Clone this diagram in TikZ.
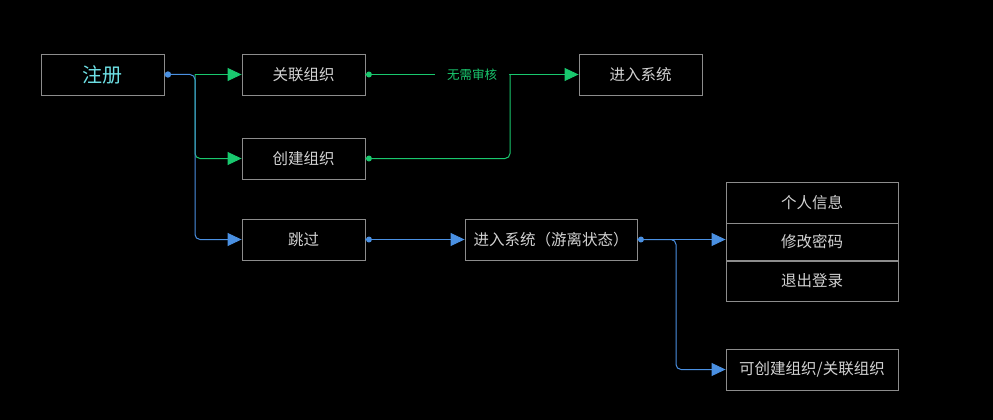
\documentclass[tikz,border=0pt]{standalone}
\usepackage{fontspec}
\newfontfamily\cjk{Noto Sans CJK SC}
\usetikzlibrary{arrows.meta}
\definecolor{flowblue}{RGB}{74,144,226}
\definecolor{flowgreen}{RGB}{25,200,110}
\definecolor{boxgray}{RGB}{140,140,140}
\definecolor{txtgray}{RGB}{210,210,210}
\definecolor{regcyan}{RGB}{110,225,230}
\tikzset{
  box/.style={draw=boxgray, line width=0.9pt, minimum width=123pt, minimum height=41pt,
    inner sep=0pt, text=txtgray, font=\cjk\fontsize{15.5}{17}\selectfont},
  widebox/.style={box, minimum width=172pt},
  tip/.style={-{Triangle[length=14pt,width=13pt]}},
  blueline/.style={draw=flowblue, line width=1pt, rounded corners=5pt, tip},
  greenline/.style={draw=flowgreen, line width=1pt, rounded corners=5pt, tip},
}

\begin{document}
\begin{tikzpicture}[x=1pt,y=-1pt]
		%%%%% background %%%%%
		\fill[black] (0,0) rectangle (993,420);
		\useasboundingbox (0,0) rectangle (993,420);
		
		%%%%% boxes %%%%%
		\node[box, text=regcyan, font=\cjk\fontsize{20}{22}\selectfont] (reg) at (102.5,74.5) {注册};
		\node[box] (link) at (303.5,74.5) {关联组织};
		\node[box] (create) at (303.5,158.5) {创建组织};
		\node[box] (skip) at (303.5,239.5) {跳过};
		\node[box] (sys) at (640.5,74.5) {进入系统};
		\node[widebox] (free) at (551,239.5) {进入系统（游离状态）};
		
		\node[widebox] (info) at (812,202.5) {个人信息};
		\node[widebox, minimum height=37pt] (pwd) at (812,241.5) {修改密码};
		\node[widebox, minimum height=40pt] (quit) at (812,281) {退出登录};
		\node[widebox] (org) at (812,369.5) {可创建组织/关联组织};
		
		\coordinate (split1) at (195,74.5);
		\coordinate (join) at (510,74.5);
		\coordinate (split2) at (676,239.5);
		
		%%%%% connectors %%%%%
		\draw[greenline] (split1) -- (link.west);
		\draw[greenline] (split1) |- (create.west);
		\draw[blueline] (reg.east) -- (split1) |- (skip.west);
		
		\draw[greenline] (link.east) -- (sys.west)
			node[midway, fill=black, inner xsep=12pt, inner ysep=2pt, text=flowgreen,
			font=\cjk\fontsize{12.5}{14}\selectfont] {无需审核};
		\draw[greenline, -] (create.east) -| (join);
		
		\draw[blueline] (skip.east) -- (free.west);
		\draw[blueline] (free.east) -- (free.east -| pwd.west);
		\draw[blueline] (free.east) -- (split2) |- (org.west);
		
		%%%%% dots %%%%%
		\fill[flowblue] ([xshift=3.5pt]reg.east) circle (3.2pt);
		\fill[flowgreen] ([xshift=3.5pt]link.east) circle (3pt);
		\fill[flowgreen] ([xshift=3.5pt]create.east) circle (3pt);
		\fill[flowblue] ([xshift=3.5pt]skip.east) circle (3pt);
		\fill[flowblue] ([xshift=3.5pt]free.east) circle (3pt);
\end{tikzpicture}
\end{document}
